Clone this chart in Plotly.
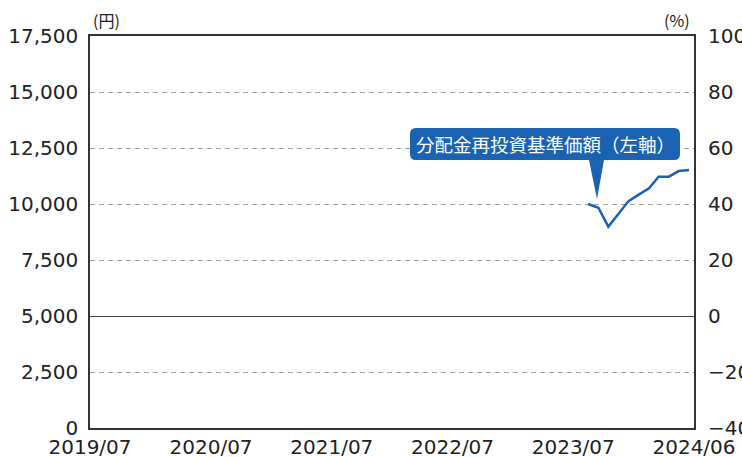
import plotly.graph_objects as go

# ---- data ----
dates = ["2023-08-15", "2023-09-15", "2023-10-15", "2023-11-15", "2023-12-15",
         "2024-01-15", "2024-02-15", "2024-03-15", "2024-04-15", "2024-05-15",
         "2024-06-15"]
nav_values = [10000, 9835, 8990, 9560, 10130, 10420, 10700, 11220, 11220, 11470, 11520]
x_tick_vals = ["2019-07-01", "2020-07-01", "2021-07-01", "2022-07-01", "2023-07-01", "2024-06-30"]
x_tick_labels = ["2019/07", "2020/07", "2021/07", "2022/07", "2023/07", "2024/06"]
series_name = "分配金再投資基準価額（左軸）"

BLUE = "#1a63b3"
DARK = "#333333"
TICKFONT = dict(family="DejaVu Sans", size=20, color="#222222")

# plot-area pixel frame (for decorations only)
PL, PR, PT, PB = 90, 694, 36, 428


def px(xp):
    return (xp - PL) / (PR - PL)


def py(yp):
    return (PB - yp) / (PB - PT)


fig = go.Figure()
fig.add_trace(go.Scatter(x=dates, y=nav_values, mode="lines",
                         line=dict(color=BLUE, width=2.5), showlegend=False))
# invisible trace for the right axis
fig.add_trace(go.Scatter(x=[dates[0]], y=[0], yaxis="y2", mode="markers",
                         marker=dict(opacity=0), showlegend=False, hoverinfo="skip"))

# callout: rounded box + wedge pointer
x0, x1, y0, y1, r = 410, 680, 128, 160, 6
bl, br, tx, ty = 589, 604, 597, 199
pts = [("M", x0 + r, y0), ("L", x1 - r, y0), ("Q", x1, y0, x1, y0 + r),
       ("L", x1, y1 - r), ("Q", x1, y1, x1 - r, y1), ("L", br, y1), ("L", tx, ty),
       ("L", bl, y1), ("L", x0 + r, y1), ("Q", x0, y1, x0, y1 - r),
       ("L", x0, y0 + r), ("Q", x0, y0, x0 + r, y0)]
path = ""
for p in pts:
    cmd = p[0]
    coords = p[1:]
    s = []
    for i in range(0, len(coords), 2):
        s.append(f"{px(coords[i]):.5f},{py(coords[i + 1]):.5f}")
    path += cmd + " " + " ".join(s) + " "
path += "Z"

fig.add_shape(type="path", path=path, xref="paper", yref="paper",
              fillcolor=BLUE, line=dict(width=0), layer="above")

fig.add_annotation(text=series_name, x=px((x0 + x1) / 2), y=py((y0 + y1) / 2),
                   xref="paper", yref="paper", showarrow=False,
                   font=dict(family="Noto Sans CJK JP", size=18.5, color="white"),
                   xanchor="center", yanchor="middle")
fig.add_annotation(text="(円)", x=px(106), y=py(20), xref="paper", yref="paper",
                   showarrow=False, xanchor="center", yanchor="middle",
                   font=dict(family="Noto Sans CJK JP", size=16, color="#222"))
fig.add_annotation(text="(%)", x=px(677), y=py(20), xref="paper", yref="paper",
                   showarrow=False, xanchor="center", yanchor="middle",
                   font=dict(family="Noto Sans CJK JP", size=16, color="#222"))

fig.update_layout(
    width=742, height=457,
    margin=dict(l=PL, r=742 - PR, t=PT, b=457 - PB),
    paper_bgcolor="white", plot_bgcolor="white",
    xaxis=dict(type="date", range=[x_tick_vals[0], x_tick_vals[-1]],
               tickmode="array", tickvals=x_tick_vals, ticktext=x_tick_labels,
               showgrid=False, zeroline=False, showline=True, linecolor=DARK,
               linewidth=1.5, mirror=True, ticks="", tickfont=TICKFONT,
               automargin=False),
    yaxis=dict(range=[0, 17500], dtick=2500, tickformat=",", showgrid=True,
               gridcolor="#a0a0a0", gridwidth=1, griddash="5px,4px",
               zeroline=False, showline=True, linecolor=DARK, linewidth=1.5,
               mirror=True, ticks="", tickfont=TICKFONT, ticklabelstandoff=6,
               automargin=False),
    yaxis2=dict(range=[-40, 100], dtick=20, overlaying="y", side="right",
                showgrid=False, zeroline=True, zerolinecolor="#444444",
                zerolinewidth=1, showline=False, ticks="", tickfont=TICKFONT,
                ticklabelstandoff=13, automargin=False),
)

fig.write_html("out.html", config={"displayModeBar": False},
               post_script="document.body.style.margin='0';document.body.style.overflow='hidden';")
